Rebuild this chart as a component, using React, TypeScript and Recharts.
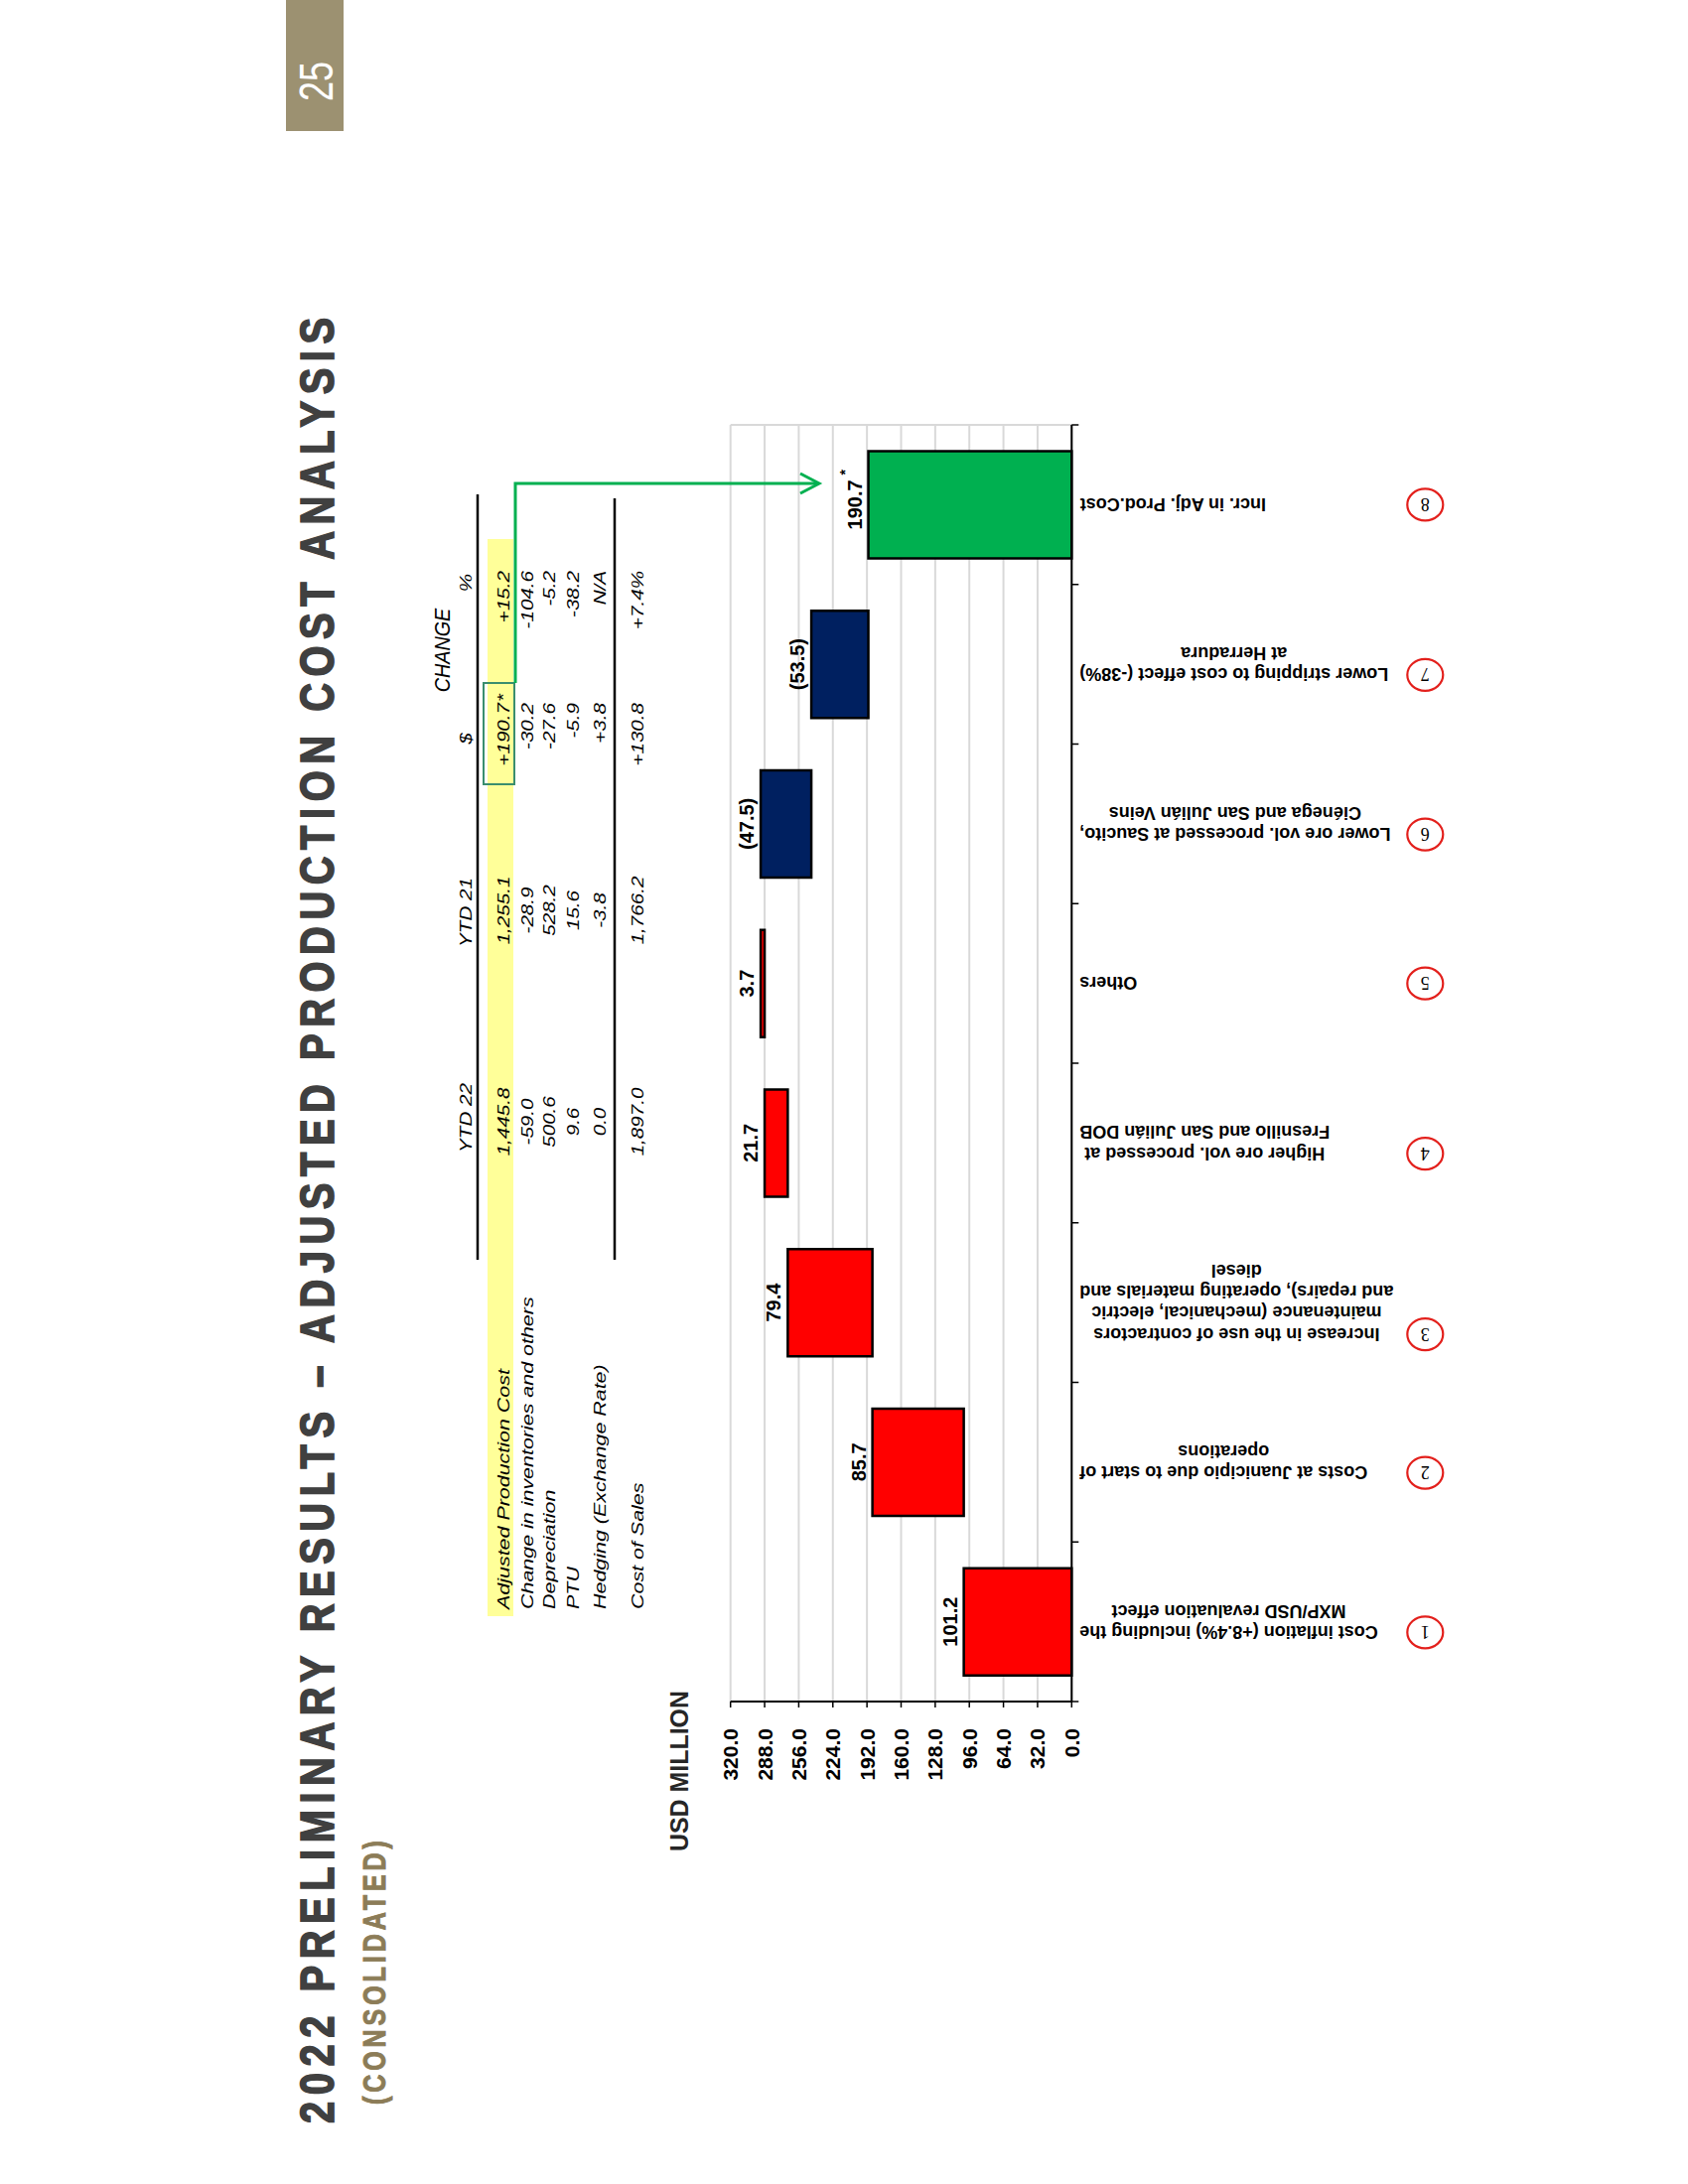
import React from 'react';
import { BarChart, Bar, XAxis, YAxis, CartesianGrid, Cell } from 'recharts';

// waterfall data
const categories = [
  ['Cost inflation (+8.4%) including the', 'MXP/USD revaluation effect'],
  ['Costs at Juanicipio due to start of', 'operations'],
  ['Increase in the use of contractors', 'maintenance (mechanical, electric', 'and repairs), operating materials and', 'diesel'],
  ['Higher ore vol. processed at', 'Fresnillo and San Julián DOB'],
  ['Others'],
  ['Lower ore vol. processed at Saucito,', 'Ciénega and San Julián Veins'],
  ['Lower stripping to cost effect (-38%)', 'at Herradura'],
  ['Incr. in Adj. Prod.Cost'],
];
const deltas = [101.2, 85.7, 79.4, 21.7, 3.7, -47.5, -53.5];
const total = 190.7;
const yTicks = [0, 32, 64, 96, 128, 160, 192, 224, 256, 288, 320];

// summary table
const rowLabels = ['Adjusted Production Cost', 'Change in inventories and others', 'Depreciation', 'PTU', 'Hedging (Exchange Rate)', 'Cost of Sales'];
const ytd22 = ['1,445.8', '-59.0', '500.6', '9.6', '0.0', '1,897.0'];
const ytd21 = ['1,255.1', '-28.9', '528.2', '15.6', '-3.8', '1,766.2'];
const changeUsd = ['+190.7*', '-30.2', '-27.6', '-5.9', '+3.8', '+130.8'];
const changePct = ['+15.2', '-104.6', '-5.2', '-38.2', 'N/A', '+7.4%'];

let running = 0;
const data = deltas.map((d, i) => {
  const lo = running;
  running += d;
  return { name: String(i + 1), range: [Math.min(lo, running), Math.max(lo, running)], delta: d, total: false };
});
data.push({ name: String(deltas.length + 1), range: [0, total], delta: total, total: true });

const SANS = 'Arial, "Liberation Sans", Helvetica, sans-serif';
const SERIF = '"Times New Roman", "Liberation Serif", serif';

// chart geometry (landscape slide coords, the page is turned afterwards)
const CH_LEFT = 300;
const CH_TOP = 650;
const CH_W = 1500;
const CH_H = 900;
const MARGIN = { top: 85.7, right: 28, left: 96, bottom: 70.7 };
const Y_W = 90;
const X_H = 400;
const PLOT_W = CH_W - MARGIN.left - MARGIN.right - Y_W;
const BAND = PLOT_W / categories.length;
const AXIS_Y = CH_H - MARGIN.bottom - X_H;
const LINE_H = 21.3;
const CIRCLE_DIST = 348;

let ctx: CanvasRenderingContext2D | null = null;
function textWidth(s: string, font: string) {
  if (!ctx && typeof document !== 'undefined') ctx = document.createElement('canvas').getContext('2d');
  if (!ctx) return s.length * 9.5;
  ctx.font = font;
  return ctx.measureText(s).width;
}

const fmt = (d: number) => (d < 0 ? `(${Math.abs(d).toFixed(1)})` : d.toFixed(1));
const barColor = (d: { delta: number; total: boolean }) => (d.total ? '#00B050' : d.delta < 0 ? '#002060' : '#FF0000');

function CategoryTick(props: any) {
  const { x, index } = props;
  const lines = categories[index] || [];
  const n = lines.length;
  const w = Math.max(...lines.map((l) => textWidth(l, `bold 18px ${SANS}`)));
  const firstY = (-(n - 1) / 2) * LINE_H;
  return (
    <g>
      <line x1={x - BAND / 2} x2={x - BAND / 2} y1={AXIS_Y} y2={AXIS_Y + 7} stroke="#000" strokeWidth={1.5} />
      {index === categories.length - 1 && (
        <line x1={x + BAND / 2} x2={x + BAND / 2} y1={AXIS_Y} y2={AXIS_Y + 7} stroke="#000" strokeWidth={1.5} />
      )}
      <g transform={`translate(${x},${AXIS_Y + 8}) rotate(-90)`}>
        {lines.map((l, i) => (
          <text key={i} x={-w / 2} y={firstY + i * LINE_H} dy="0.35em" textAnchor="middle" fontFamily={SANS} fontSize={18} fontWeight="bold" fill="#000">
            {l}
          </text>
        ))}
        <ellipse cx={-CIRCLE_DIST} cy={firstY} rx={18} ry={16} fill="none" stroke="#E3201C" strokeWidth={2.2} />
        <text x={-CIRCLE_DIST} y={firstY} dy="0.35em" textAnchor="middle" fontFamily={SERIF} fontSize={18} fill="#000">
          {index + 1}
        </text>
      </g>
    </g>
  );
}

function ValueLabel(props: any) {
  const { x, y, width, height, index } = props;
  const d = data[index];
  if (!d) return null;
  const cx = x + width / 2;
  const top = Math.min(y, y + height) - 7;
  return (
    <g>
      <text x={cx} y={top} textAnchor="middle" fontFamily={SANS} fontSize={20} fontWeight="bold" fill="#000">
        {fmt(d.delta)}
      </text>
      {d.total && (
        <text x={cx + 30} y={top - 12} fontFamily={SANS} fontSize={14} fontWeight="bold" fill="#000">
          *
        </text>
      )}
    </g>
  );
}

// text squeezed/stretched to a measured length by a horizontal scale
function Fit({ x, y, len, size, bold = false, spacing = 0, fill, stroke = 0, children }: any) {
  const font = `${bold ? 'bold ' : ''}${size}px ${SANS}`;
  const natural = textWidth(children, font) + spacing * (children.length - 1);
  const sx = len / natural;
  return (
    <text
      transform={`translate(${x},${y}) scale(${sx},1)`}
      fontFamily={SANS}
      fontSize={size}
      fontWeight={bold ? 'bold' : 'normal'}
      letterSpacing={spacing}
      fill={fill}
      stroke={stroke ? fill : 'none'}
      strokeWidth={stroke}
    >
      {children}
    </text>
  );
}

function T({ x, y, anchor = 'start', size = 16.5, sx = 1.25, children }: any) {
  return (
    <text transform={`translate(${x},${y}) scale(${sx},1)`} textAnchor={anchor} fontFamily={SANS} fontSize={size} fontStyle="italic" fill="#000">
      {children}
    </text>
  );
}

const ROW_Y = [513, 537, 559, 583, 610, 648];
const HEAD_Y = 475;

function Overlay() {
  return (
    <svg width={2200} height={1700} style={{ position: 'absolute', left: 0, top: 0, pointerEvents: 'none' }}>
      <Fit x={61} y={336} len={1823} size={49} bold spacing={8} fill="#404040" stroke={1.6}>
        2022 PRELIMINARY RESULTS – ADJUSTED PRODUCTION COST ANALYSIS
      </Fit>
      <Fit x={80} y={388} len={266} size={32} bold spacing={5} fill="#8C7C57" stroke={1}>
        (CONSOLIDATED)
      </Fit>
      <rect x={2068} y={288} width={132} height={58} fill="#9C9171" />
      <Fit x={2098} y={335} len={40} size={48} fill="#fff">
        25
      </Fit>
      <Fit x={335} y={693} len={162} size={25} bold fill="#262626">
        USD MILLION
      </Fit>

      <rect x={572} y={491} width={1085} height={26} fill="#FFFF99" />
      <line x1={931} x2={1702} y1={481} y2={481} stroke="#000" strokeWidth={2.5} />
      <line x1={931} x2={1698} y1={619} y2={619} stroke="#000" strokeWidth={2.5} />

      <T x={1545} y={453} anchor="middle" size={22} sx={0.9}>CHANGE</T>
      <T x={1074} y={HEAD_Y} anchor="middle">YTD 22</T>
      <T x={1281} y={HEAD_Y} anchor="middle">YTD 21</T>
      <T x={1456} y={HEAD_Y} anchor="middle">$</T>
      <T x={1613} y={HEAD_Y} anchor="middle">%</T>

      {rowLabels.map((l, i) => (
        <T key={'l' + i} x={579} y={ROW_Y[i]} sx={1.3}>{l}</T>
      ))}
      {ytd22.map((v, i) => (
        <T key={'a' + i} x={1070} y={ROW_Y[i]} anchor="middle">{v}</T>
      ))}
      {ytd21.map((v, i) => (
        <T key={'b' + i} x={1283} y={ROW_Y[i]} anchor="middle">{v}</T>
      ))}
      {changeUsd.map((v, i) => (
        <g key={'c' + i}>
          <T x={1492} y={ROW_Y[i]} anchor="end">{v.replace('*', '')}</T>
          {v.endsWith('*') && <T x={1493} y={ROW_Y[i]}>*</T>}
        </g>
      ))}
      {changePct.map((v, i) => (
        <T key={'d' + i} x={1625} y={ROW_Y[i]} anchor="end">{v}</T>
      ))}

      <rect x={1410} y={487} width={102} height={31} fill="none" stroke="#3A8E6E" strokeWidth={2} />
      <polyline points="1512,519 1713,519 1713,824" fill="none" stroke="#00B050" strokeWidth={3} />
      <polyline points="1703,806 1713,825 1723,806" fill="none" stroke="#00B050" strokeWidth={3} />
    </svg>
  );
}

export default function App() {
  return (
    <div style={{ position: 'absolute', left: 0, top: 0, width: 1700, height: 2200, overflow: 'hidden', background: '#fff' }}>
      <div
        style={{
          position: 'absolute',
          left: 0,
          top: 0,
          width: 2200,
          height: 1700,
          transformOrigin: '0 0',
          transform: 'translate(0px, 2200px) rotate(-90deg)',
          background: '#fff',
        }}
      >
        <div style={{ position: 'absolute', left: CH_LEFT, top: CH_TOP }}>
          <BarChart width={CH_W} height={CH_H} data={data} margin={MARGIN} barCategoryGap="16.4%">
            <CartesianGrid
              stroke="#D9D9D9"
              strokeWidth={2}
              vertical
              verticalCoordinatesGenerator={({ offset }: any) => [offset.left + offset.width]}
            />
            <XAxis
              dataKey="name"
              interval={0}
              height={X_H}
              tickLine={false}
              axisLine={{ stroke: '#000', strokeWidth: 2 }}
              tick={<CategoryTick />}
            />
            <YAxis
              type="number"
              domain={[0, 320]}
              ticks={yTicks}
              width={Y_W}
              tickSize={6}
              tickMargin={21}
              tickFormatter={(v: number) => v.toFixed(1)}
              axisLine={{ stroke: '#000', strokeWidth: 2 }}
              tickLine={{ stroke: '#000', strokeWidth: 1.5 }}
              tick={{ fill: '#000', fontSize: 21, fontWeight: 'bold', fontFamily: SANS }}
            />
            <Bar dataKey="range" isAnimationActive={false} stroke="#000" strokeWidth={2.5} label={<ValueLabel />}>
              {data.map((d, i) => (
                <Cell key={i} fill={barColor(d)} />
              ))}
            </Bar>
          </BarChart>
        </div>
        <Overlay />
      </div>
    </div>
  );
}
